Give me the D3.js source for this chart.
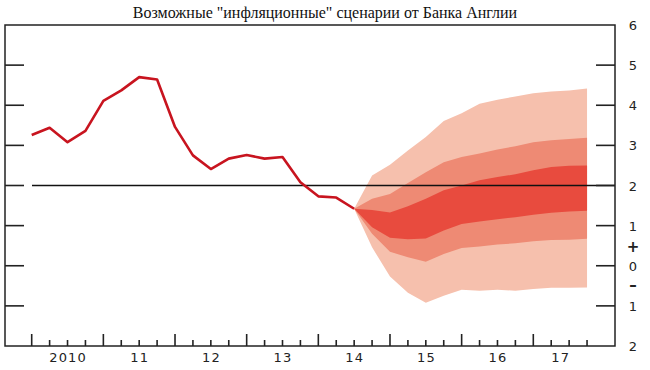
<!DOCTYPE html>
<html>
<head>
<meta charset="utf-8">
<script src="https://cdn.jsdelivr.net/npm/d3@7"></script>
<style>
  body { margin: 0; background: #fff; }
  svg { display: block; }
</style>
</head>
<body>
<svg width="650" height="370"></svg>
<script>
// Inflation history (quarterly)
var histQuarters = ["2010Q1","2010Q2","2010Q3","2010Q4","2011Q1","2011Q2","2011Q3","2011Q4",
                    "2012Q1","2012Q2","2012Q3","2012Q4","2013Q1","2013Q2","2013Q3","2013Q4",
                    "2014Q1","2014Q2","2014Q3"];
var histValues = [3.26, 3.44, 3.08, 3.36, 4.11, 4.37, 4.70, 4.64,
                  3.46, 2.75, 2.41, 2.67, 2.76, 2.67, 2.71, 2.08,
                  1.73, 1.70, 1.42];

// Fan chart bands
var fanQuarters = ["2014Q3","2014Q4","2015Q1","2015Q2","2015Q3","2015Q4","2016Q1",
                   "2016Q2","2016Q3","2016Q4","2017Q1","2017Q2","2017Q3","2017Q4"];
var outerUp = [1.42, 2.25, 2.52, 2.87, 3.21, 3.61, 3.80, 4.04, 4.14, 4.22, 4.30, 4.34, 4.37, 4.42];
var midUp   = [1.42, 1.67, 1.79, 2.06, 2.33, 2.58, 2.71, 2.80, 2.90, 2.98, 3.08, 3.13, 3.16, 3.19];
var darkUp  = [1.42, 1.39, 1.33, 1.48, 1.67, 1.88, 2.00, 2.13, 2.21, 2.28, 2.38, 2.46, 2.49, 2.50];
var darkLo  = [1.42, 0.96, 0.70, 0.66, 0.68, 0.88, 1.04, 1.10, 1.16, 1.21, 1.27, 1.32, 1.35, 1.37];
var midLo   = [1.42, 0.80, 0.35, 0.21, 0.10, 0.29, 0.44, 0.48, 0.53, 0.56, 0.61, 0.64, 0.65, 0.67];
var outerLo = [1.42, 0.46, -0.27, -0.67, -0.92, -0.75, -0.60, -0.62, -0.60, -0.62, -0.58, -0.55, -0.55, -0.54];

var target = 2;
var years = [2010, 2011, 2012, 2013, 2014, 2015, 2016, 2017];
var yearLabels = ["2010", "11", "12", "13", "14", "15", "16", "17"];
var sideTicks = [5, 4, 3, 2, 1, 0, -1];
var rightValues = [6, 5, 4, 3, 2, 1, 0, -1, -2];
var rightLabels = ["6", "5", "4", "3", "2", "1", "0", "1", "2"];
var title = "Возможные \"инфляционные\" сценарии от Банка Англии";

var svg = d3.select("svg"),
    width = +svg.attr("width"),
    height = +svg.attr("height");

// frame edges (note: "top" is a reserved window property, so use other names)
var frameL = 5, frameR = 615, frameT = 25, frameB = 346;

function qToT(q) {
    return +q.slice(0, 4) + (+q.slice(5) - 1) / 4;
}

var x = d3.scaleLinear().domain([2010, 2017]).range([31.7, 533.3]);
var y = d3.scaleLinear().domain([6, -2]).range([frameT, frameB]);

// Fan bands: outer, middle, central
var fanT = fanQuarters.map(qToT);
var band = function (lo, hi) {
    return d3.area()
        .x(function (d, i) { return x(fanT[i]); })
        .y0(function (d, i) { return y(lo[i]); })
        .y1(function (d, i) { return y(hi[i]); })(fanT);
};
svg.append("path").attr("d", band(outerLo, outerUp)).attr("fill", "#f6c0ad");
svg.append("path").attr("d", band(midLo, midUp)).attr("fill", "#ee8a74");
svg.append("path").attr("d", band(darkLo, darkUp)).attr("fill", "#e84b3e");

// Target line at 2%
svg.append("line")
    .attr("x1", 32).attr("x2", frameR)
    .attr("y1", y(target)).attr("y2", y(target))
    .attr("stroke", "#111").attr("stroke-width", 1.4);

// History line
var histT = histQuarters.map(qToT);
svg.append("path")
    .datum(histValues)
    .attr("d", d3.line()
        .x(function (d, i) { return x(histT[i]); })
        .y(function (d) { return y(d); }))
    .attr("fill", "none")
    .attr("stroke", "#c8141f")
    .attr("stroke-width", 2.6)
    .attr("stroke-linejoin", "round");

// Frame
svg.append("rect")
    .attr("x", frameL).attr("y", frameT)
    .attr("width", frameR - frameL).attr("height", frameB - frameT)
    .attr("fill", "none").attr("stroke", "#222").attr("stroke-width", 1.5);

// Side ticks
var ticks = svg.append("g").attr("stroke", "#222").attr("stroke-width", 1.6);
ticks.selectAll(".lt").data(sideTicks).enter().append("line")
    .attr("x1", frameL).attr("x2", frameL + 19)
    .attr("y1", function (d) { return y(d); })
    .attr("y2", function (d) { return y(d); });
ticks.selectAll(".rt").data(sideTicks).enter().append("line")
    .attr("x1", frameR - 19).attr("x2", frameR)
    .attr("y1", function (d) { return y(d); })
    .attr("y2", function (d) { return y(d); });

// Bottom ticks: years (major) and quarters (minor)
var lastT = qToT(fanQuarters[fanQuarters.length - 1]);
var quarterTicks = [];
years.forEach(function (yr) {
    [0.25, 0.5, 0.75].forEach(function (f) { quarterTicks.push(yr + f); });
});
ticks.selectAll(".maj").data(years).enter().append("line")
    .attr("x1", function (d) { return x(d); })
    .attr("x2", function (d) { return x(d); })
    .attr("y1", frameB).attr("y2", frameB - 12);
ticks.selectAll(".min").data(quarterTicks).enter().append("line")
    .attr("x1", function (d) { return x(d); })
    .attr("x2", function (d) { return x(d); })
    .attr("y1", frameB).attr("y2", frameB - 6);

// Year labels, centred on each year's span of data
svg.selectAll(".yl").data(years).enter().append("text")
    .attr("x", function (d) { return x((d + Math.min(d + 1, lastT)) / 2) + 0.6; })
    .attr("y", 362)
    .attr("text-anchor", "middle")
    .style("font-family", "DejaVu Sans, sans-serif")
    .style("font-size", "13px")
    .style("letter-spacing", "1.2px")
    .style("fill", "#222")
    .text(function (d, i) { return yearLabels[i]; });

// Right axis labels
svg.selectAll(".rl").data(rightValues).enter().append("text")
    .attr("x", 633)
    .attr("y", function (d) { return y(d) + 5; })
    .attr("text-anchor", "middle")
    .style("font-family", "DejaVu Sans, sans-serif")
    .style("font-size", "13px")
    .style("fill", "#222")
    .text(function (d, i) { return rightLabels[i]; });
svg.append("text")
    .attr("x", 633).attr("y", y(0.5) + 6)
    .attr("text-anchor", "middle")
    .style("font-family", "DejaVu Sans, sans-serif")
    .style("font-size", "15px").style("font-weight", "bold").style("fill", "#222")
    .text("+");
svg.append("text")
    .attr("x", 633).attr("y", y(-0.5) + 4)
    .attr("text-anchor", "middle")
    .style("font-family", "DejaVu Sans, sans-serif")
    .style("font-size", "15px").style("font-weight", "bold").style("fill", "#222")
    .text("\u2013");

// Title
svg.append("text")
    .attr("x", 325).attr("y", 18)
    .attr("text-anchor", "middle")
    .style("font-family", "Liberation Serif, serif")
    .style("font-size", "16px")
    .style("fill", "#111")
    .text(title);
</script>
</body>
</html>
